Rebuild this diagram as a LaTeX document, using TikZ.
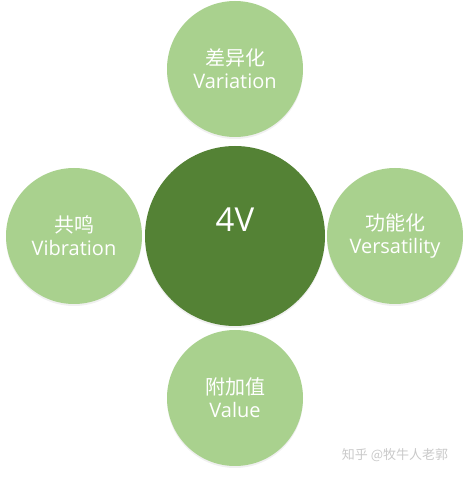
\documentclass[tikz,border=0pt]{standalone}
\usepackage{fontspec}
\setmainfont{Open Sans}
\newfontfamily\cjk{Noto Sans CJK SC}
\usetikzlibrary{positioning,shadows}
\definecolor{leaf}{HTML}{A9D18E}
\definecolor{moss}{HTML}{548235}
\definecolor{mark}{HTML}{C9C9C9}
\tikzset{
  petal/.style={circle,fill=leaf,minimum size=136pt,inner sep=0pt,
    text=white,align=center,font=\fontsize{20}{23}\selectfont,
    drop shadow={opacity=0.12,shadow xshift=0pt,shadow yshift=-2pt}},
  core/.style={circle,fill=moss,minimum size=180pt,inner sep=0pt,
    drop shadow={opacity=0.12,shadow xshift=0pt,shadow yshift=-2pt}}
}
\begin{document}
\begin{tikzpicture}[x=1pt,y=1pt,on grid]
   \useasboundingbox (0,0) rectangle (471,477);
   \node[core] (hub) at (235,241) {};
   \node[text=white,font=\fontsize{33}{36}\selectfont] (hublabel) [above=16pt of hub] {4V};
   \node[petal] (variation) [above=167pt of hub] {{\cjk 差异化}\\Variation};
   \node[petal] (vibration) [left=161pt of hub] {{\cjk 共鸣}\\Vibration};
   \node[petal] (versatility) [right=160pt of hub] {{\cjk 功能化}\\Versatility};
   \node[petal] (value) [below=162pt of hub] {{\cjk 附加值}\\Value};
   \node[text=mark,font=\cjk\fontsize{13}{15}\selectfont] (credit) at (395,22) {知乎 @牧牛人老郭};
\end{tikzpicture}
\end{document}
